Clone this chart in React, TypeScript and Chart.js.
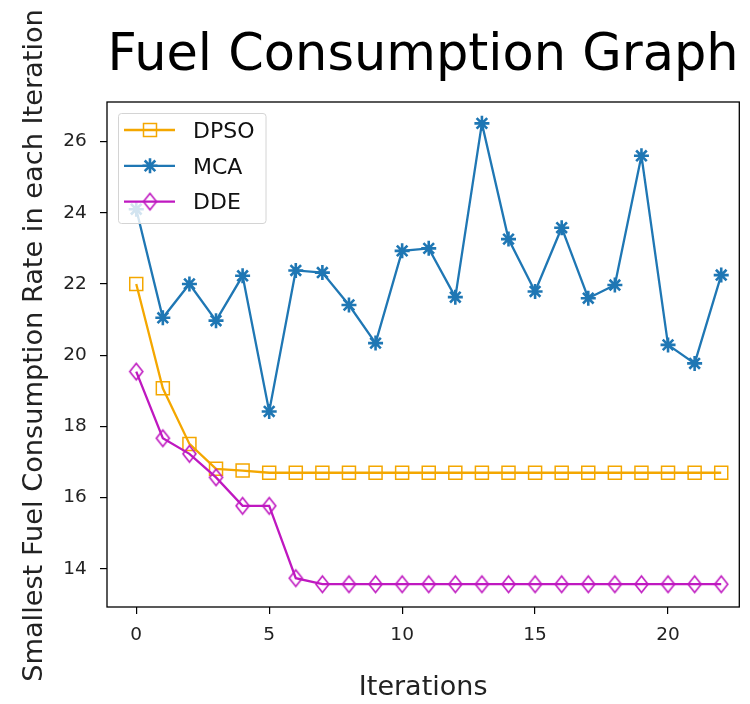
import React, { useEffect, useRef } from 'react';
import { Chart, registerables } from 'chart.js';

Chart.register(...registerables);

// ---- data ----
const iterations = [0, 1, 2, 3, 4, 5, 6, 7, 8, 9, 10, 11, 12, 13, 14, 15, 16, 17, 18, 19, 20, 21, 22];
const dpsoValues = [22.0, 19.07, 17.51, 16.81, 16.76, 16.7, 16.7, 16.7, 16.7, 16.7, 16.7, 16.7, 16.7, 16.7, 16.7, 16.7, 16.7, 16.7, 16.7, 16.7, 16.7, 16.7, 16.7];
const mcaValues = [24.1, 21.05, 22.0, 20.97, 22.23, 18.42, 22.38, 22.32, 21.41, 20.34, 22.93, 23.0, 21.63, 26.51, 23.26, 21.79, 23.58, 21.6, 21.97, 25.6, 20.29, 19.77, 22.25];
const ddeValues = [19.54, 17.67, 17.23, 16.57, 15.77, 15.77, 13.74, 13.57, 13.57, 13.57, 13.57, 13.57, 13.57, 13.57, 13.57, 13.57, 13.57, 13.57, 13.57, 13.57, 13.57, 13.57, 13.57];
const seriesNames = ['DPSO', 'MCA', 'DDE'];
const xTicks = [0, 5, 10, 15, 20];
const yTicks = [14, 16, 18, 20, 22, 24, 26];
const titleText = 'Fuel Consumption Graph';
const xLabel = 'Iterations';
const yLabel = 'Smallest Fuel Consumption Rate in each Iteration';

// ---- styling ----
const W = 750;
const H = 704;
const FONT = '"DejaVu Sans", "Liberation Sans", sans-serif';
const ORANGE = '#f4a700';
const BLUE = '#1f77b4';
const MAGENTA = '#bf18c0';
const COLORS = [ORANGE, BLUE, MAGENTA];

function makeDiamond(color: string): HTMLCanvasElement {
  const c = document.createElement('canvas');
  c.width = 17;
  c.height = 21;
  const g = c.getContext('2d')!;
  const cx = 8.5;
  const cy = 10.5;
  g.strokeStyle = color;
  g.lineWidth = 1.6;
  g.beginPath();
  g.moveTo(cx - 6.5, cy);
  g.lineTo(cx, cy - 8.3);
  g.lineTo(cx + 6.5, cy);
  g.lineTo(cx, cy + 8.3);
  g.closePath();
  g.stroke();
  return c;
}

function drawMarker(ctx: CanvasRenderingContext2D, kind: number, x: number, y: number, color: string, diamond: HTMLCanvasElement) {
  ctx.save();
  ctx.strokeStyle = color;
  ctx.beginPath();
  if (kind === 0) {
    const h = 6.5;
    ctx.lineWidth = 1.5;
    ctx.rect(x - h, y - h, 2 * h, 2 * h);
    ctx.stroke();
  } else if (kind === 2) {
    ctx.drawImage(diamond, x - diamond.width / 2, y - diamond.height / 2);
  } else {
    const r = 7.5;
    const d = r * Math.SQRT1_2;
    ctx.lineWidth = 2.6;
    ctx.moveTo(x - r, y); ctx.lineTo(x + r, y);
    ctx.moveTo(x, y - r); ctx.lineTo(x, y + r);
    ctx.moveTo(x - d, y - d); ctx.lineTo(x + d, y + d);
    ctx.moveTo(x - d, y + d); ctx.lineTo(x + d, y - d);
    ctx.stroke();
  }
  ctx.restore();
}

function makeFramePlugin(diamond: HTMLCanvasElement) {
  return {
    id: 'frameAndLegend',
    afterDraw(chart: any) {
      const { ctx, chartArea } = chart;
      const { left, right, top, bottom } = chartArea;
      ctx.save();
      ctx.strokeStyle = '#000';
      ctx.lineWidth = 1.3;
      ctx.strokeRect(left, top, right - left, bottom - top);

      // y axis label (rotated text)
      ctx.save();
      ctx.translate(34.7, 345.5);
      ctx.rotate(-Math.PI / 2);
      ctx.textAlign = 'center';
      ctx.textBaseline = 'middle';
      ctx.font = `27.2px ${FONT}`;
      ctx.fillStyle = '#222';
      ctx.fillText(yLabel, 0, 0);
      ctx.restore();

      // legend
      const lx = 118.5;
      const ly = 113.5;
      const lw = 147.5;
      const lh = 110;
      ctx.beginPath();
      if ((ctx as any).roundRect) (ctx as any).roundRect(lx, ly, lw, lh, 3);
      else ctx.rect(lx, ly, lw, lh);
      ctx.fillStyle = 'rgba(255,255,255,0.8)';
      ctx.fill();
      ctx.strokeStyle = '#d4d4d4';
      ctx.lineWidth = 1;
      ctx.stroke();
      seriesNames.forEach((name, i) => {
        const cy = ly + 16.5 + i * 35.8;
        ctx.beginPath();
        ctx.strokeStyle = COLORS[i];
        ctx.lineWidth = 2.3;
        ctx.moveTo(124, cy);
        ctx.lineTo(175, cy);
        ctx.stroke();
        drawMarker(ctx, i, 150, cy, COLORS[i], diamond);
        ctx.fillStyle = '#111';
        ctx.font = `22px ${FONT}`;
        ctx.textBaseline = 'middle';
        ctx.textAlign = 'left';
        ctx.fillText(name, 193, cy + 2);
      });
      ctx.restore();
    },
  };
}

function toPoints(values: number[]) {
  return iterations.map((x, i) => ({ x, y: values[i] }));
}

export default function App() {
  const ref = useRef<HTMLCanvasElement | null>(null);

  useEffect(() => {
    document.body.style.margin = '0';
    const canvas = ref.current;
    if (!canvas) return;
    const diamond = makeDiamond(MAGENTA);
    const chart = new Chart(canvas, {
      type: 'line',
      data: {
        datasets: [
          {
            label: seriesNames[0],
            data: toPoints(dpsoValues),
            borderColor: ORANGE,
            borderWidth: 2.3,
            pointStyle: 'rect',
            pointRadius: 9.2,
            pointBorderWidth: 1.5,
            pointBorderColor: ORANGE,
            pointBackgroundColor: 'rgba(0,0,0,0)',
            order: 3,
            tension: 0,
          },
          {
            label: seriesNames[1],
            data: toPoints(mcaValues),
            borderColor: BLUE,
            borderWidth: 2.3,
            pointStyle: 'star',
            pointRadius: 7.5,
            pointBorderWidth: 2.6,
            pointBorderColor: BLUE,
            pointBackgroundColor: BLUE,
            order: 2,
            tension: 0,
          },
          {
            label: seriesNames[2],
            data: toPoints(ddeValues),
            borderColor: MAGENTA,
            borderWidth: 2.3,
            pointStyle: diamond,
            pointRadius: 8,
            pointBorderWidth: 1.5,
            pointBorderColor: MAGENTA,
            pointBackgroundColor: 'rgba(0,0,0,0)',
            order: 1,
            tension: 0,
          },
        ],
      } as any,
      options: {
        responsive: false,
        animation: false,
        devicePixelRatio: 1,
        layout: { padding: { left: 0, right: 6, top: 0, bottom: 0 } },
        plugins: {
          legend: { display: false },
          tooltip: { enabled: false },
          title: {
            display: true,
            text: titleText,
            fullSize: false,
            color: '#000',
            font: { family: FONT, size: 51, weight: 'normal', lineHeight: 1 },
            padding: { top: 31.5, bottom: 19.5 },
          },
        },
        scales: {
          x: {
            type: 'linear',
            min: -1.1,
            max: 22.68,
            afterBuildTicks: (s: any) => {
              s.ticks = xTicks.map((v) => ({ value: v }));
            },
            afterFit: (s: any) => {
              s.height = 97;
            },
            grid: { drawOnChartArea: false, drawTicks: true, tickLength: 7, color: '#000', lineWidth: 1.2 },
            border: { display: false },
            ticks: { font: { family: FONT, size: 18.5 }, color: '#222', padding: 10, maxRotation: 0, autoSkip: false },
            title: {
              display: true,
              text: xLabel,
              color: '#222',
              font: { family: FONT, size: 27, lineHeight: 1 },
              padding: { top: 0, bottom: 2.8 },
            },
          },
          y: {
            type: 'linear',
            min: 12.93,
            max: 27.11,
            afterBuildTicks: (s: any) => {
              s.ticks = yTicks.map((v) => ({ value: v }));
            },
            afterFit: (s: any) => {
              s.width = 107;
            },
            grid: { drawOnChartArea: false, drawTicks: true, tickLength: 7, color: '#000', lineWidth: 1.2 },
            border: { display: false },
            ticks: { font: { family: FONT, size: 18.5 }, color: '#222', padding: 13.3, autoSkip: false },
            title: { display: false },
          },
        },
      } as any,
      plugins: [makeFramePlugin(diamond)],
    });
    return () => chart.destroy();
  }, []);

  return (
    <div style={{ width: W, height: H, overflow: 'hidden', background: '#fff', position: 'relative' }}>
      <canvas ref={ref} width={W} height={H} style={{ width: W, height: H, display: 'block' }} />
    </div>
  );
}
